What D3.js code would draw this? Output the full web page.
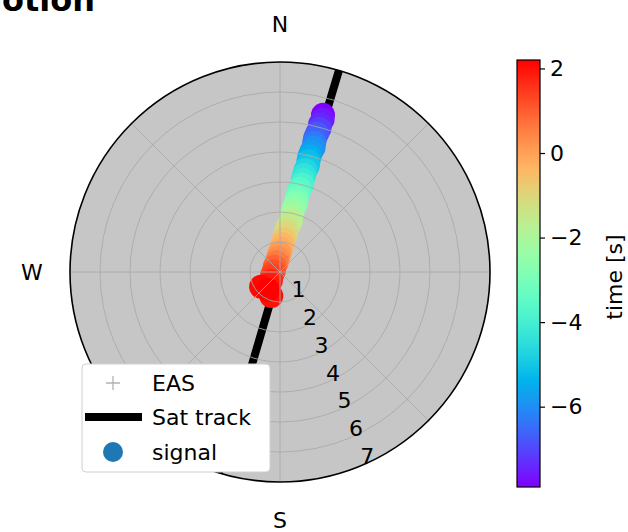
<!DOCTYPE html>
<head>
<meta charset="utf-8">
<script src="https://cdn.jsdelivr.net/npm/d3@7"></script>
<style>
  body { margin: 0; background: #fff; }
  text { font-family: "DejaVu Sans", sans-serif; fill: #000; }
  .grid { fill: none; stroke: #a9a9a9; stroke-width: 1; stroke-opacity: 0.85; }
</style>
</head>
<body>
<svg width="628" height="532"></svg>

<script>
// --- data ---
// compass labels (azimuth in degrees, clockwise from north)
var compassNames = ["N", "E", "S", "W"];
var compassAz = [0, 90, 180, 270];
// radial (zenith) rings and their labels
var ringTicks = [1, 2, 3, 4, 5, 6, 7];
var spokeAz = [0, 45, 90, 135, 180, 225, 270, 315];
var rlabelAz = 157.5;

// satellite track (azimuth deg, zenith)
var trackAz  = [16.3, 15.9, 196.8, 197.0];
var trackZen = [7.05, 3.5, 3.5, 7.05];

// signal points
var signalAz   = [15.3, 15.6, 15.2, 15.4, 15.0, 14.7, 14.8, 15.1, 14.6, 14.3,
                  14.4, 14.7, 14.1, 13.9, 13.8, 14.2, 13.4, 12.9, 12.8, 13.1,
                  12.3, 11.6, 11.4, 11.9, 10.1, 9.0, 8.2, 7.0, 5.1, 2.5,
                  358.8, 352, 341, 315, 274, 245, 226, 220, 200, 232, 214];
var signalZen  = [5.43, 5.28, 5.10, 4.95, 4.78, 4.62, 4.46, 4.30, 4.14, 3.98,
                  3.82, 3.66, 3.50, 3.33, 3.17, 3.01, 2.85, 2.69, 2.53, 2.37,
                  2.21, 2.05, 1.89, 1.73, 1.57, 1.41, 1.26, 1.10, 0.94, 0.78,
                  0.63, 0.48, 0.34, 0.25, 0.21, 0.30, 0.42, 0.57, 0.85, 0.80, 0.72];
var signalTime = [-7.9, -7.6, -7.4, -7.1, -6.8, -6.6, -6.3, -6.0, -5.8, -5.5,
                  -5.2, -5.0, -4.7, -4.4, -4.2, -3.9, -3.6, -3.4, -3.1, -2.8,
                  -2.6, -2.3, -2.0, -1.7, -1.5, -1.2, -1.0, -0.7, -0.4, -0.2,
                  0.1, 0.3, 0.6, 0.9, 1.2, 1.4, 1.7, 1.9, 2.0, 2.1, 2.2];

// colorbar ticks
var cbarTicks = [2, 0, -2, -4, -6];
var legendNames = ["EAS", "Sat track", "signal"];

// --- layout ---
var svg = d3.select("svg");
var cx = 280, cy = 272, R = 210;
var rScale = d3.scaleLinear().domain([0, 7]).range([0, R]);

function px(az, z) {
  var a = az * Math.PI / 180, r = rScale(z);
  return [cx + r * Math.sin(a), cy - r * Math.cos(a)];
}

// matplotlib "rainbow" colormap
function rainbow(t) {
  var c = function (v) { return Math.round(255 * Math.max(0, Math.min(1, v))); };
  return d3.rgb(c(Math.abs(2 * t - 0.5)), c(Math.sin(t * Math.PI)), c(Math.cos(t * Math.PI / 2))).toString();
}
var tExtent = d3.extent(signalTime);
var cnorm = d3.scaleLinear().domain(tExtent).range([0, 1]).clamp(true);

// title, mostly cut off by the top of the figure
svg.append("text")
    .attr("x", 95).attr("y", 11)
    .attr("text-anchor", "end")
    .style("font-size", "32px").style("font-weight", "bold")
    .text("Signal motion");

// clip to the polar disc
svg.append("clipPath").attr("id", "disc")
  .append("circle").attr("cx", cx).attr("cy", cy).attr("r", R);

// EAS coverage (dense gray + markers form an almost solid disc)
svg.append("circle")
    .attr("cx", cx).attr("cy", cy).attr("r", R)
    .attr("fill", "#c6c6c6");

var plot = svg.append("g").attr("clip-path", "url(#disc)");

// satellite track
plot.append("path")
    .datum(trackAz.map(function (a, i) { return px(a, trackZen[i]); }))
    .attr("d", d3.line())
    .attr("fill", "none")
    .attr("stroke", "#000")
    .attr("stroke-width", 8);

// signal points, later times drawn on top
var order = d3.range(signalTime.length).sort(function (a, b) { return signalTime[a] - signalTime[b]; });
plot.selectAll("circle.sig")
    .data(order)
  .enter().append("circle")
    .attr("class", "sig")
    .attr("cx", function (i) { return px(signalAz[i], signalZen[i])[0]; })
    .attr("cy", function (i) { return px(signalAz[i], signalZen[i])[1]; })
    .attr("r", 12)
    .attr("fill", function (i) { return rainbow(cnorm(signalTime[i])); });

// grid on top
plot.selectAll("circle.ring")
    .data(ringTicks.slice(0, -1))
  .enter().append("circle")
    .attr("class", "grid")
    .attr("cx", cx).attr("cy", cy)
    .attr("r", function (d) { return rScale(d); });

plot.selectAll("line.spoke")
    .data(spokeAz)
  .enter().append("line")
    .attr("class", "grid")
    .attr("x1", cx).attr("y1", cy)
    .attr("x2", function (d) { return px(d, 7)[0]; })
    .attr("y2", function (d) { return px(d, 7)[1]; });

// outer frame
svg.append("circle")
    .attr("cx", cx).attr("cy", cy).attr("r", R)
    .attr("fill", "none").attr("stroke", "#000").attr("stroke-width", 1.6);

// radial labels
svg.selectAll("text.rlab")
    .data(ringTicks)
  .enter().append("text")
    .attr("x", function (d) { return px(rlabelAz, d)[0] + 7; })
    .attr("y", function (d) { return px(rlabelAz, d)[1] - 10; })
    .attr("dy", "0.35em")
    .attr("text-anchor", "middle")
    .style("font-size", "22px")
    .text(function (d) { return d; });

// compass labels
svg.selectAll("text.compass")
    .data(compassNames)
  .enter().append("text")
    .attr("x", function (d, i) { return px(compassAz[i], 7 + 38 / 30)[0]; })
    .attr("y", function (d, i) { return px(compassAz[i], 7 + 38 / 30)[1]; })
    .attr("dy", "0.35em")
    .attr("text-anchor", "middle")
    .style("font-size", "22px")
    .text(function (d) { return d; });

// legend
var lg = svg.append("g");
lg.append("rect")
    .attr("x", 82).attr("y", 364).attr("width", 188).attr("height", 108)
    .attr("rx", 4)
    .attr("fill", "#fff")
    .attr("stroke", "#d0d0d0");
var rowY = [383, 417, 452];
lg.append("path")
    .attr("d", "M" + (113 - 7) + "," + rowY[0] + "h14M113," + (rowY[0] - 7) + "v14")
    .attr("stroke", "#b3b3b3").attr("stroke-width", 1.3);
lg.append("line")
    .attr("x1", 85).attr("x2", 142).attr("y1", rowY[1]).attr("y2", rowY[1])
    .attr("stroke", "#000").attr("stroke-width", 8);
lg.append("circle")
    .attr("cx", 113).attr("cy", rowY[2]).attr("r", 10)
    .attr("fill", "#1f77b4");
lg.selectAll("text")
    .data(legendNames)
  .enter().append("text")
    .attr("x", 152)
    .attr("y", function (d, i) { return rowY[i]; })
    .attr("dy", "0.35em")
    .style("font-size", "22px")
    .text(function (d) { return d; });

// colorbar
var cbX = 517, cbW = 23, cbTop = 60, cbBot = 487;
var cScale = d3.scaleLinear().domain(tExtent).range([cbBot, cbTop]);
var grad = svg.append("defs").append("linearGradient")
    .attr("id", "cgrad").attr("x1", 0).attr("y1", 1).attr("x2", 0).attr("y2", 0);
grad.selectAll("stop")
    .data(d3.range(0, 1.0001, 0.05))
  .enter().append("stop")
    .attr("offset", function (d) { return d; })
    .attr("stop-color", function (d) { return rainbow(d); });
svg.append("rect")
    .attr("x", cbX).attr("y", cbTop).attr("width", cbW).attr("height", cbBot - cbTop)
    .attr("fill", "url(#cgrad)")
    .attr("stroke", "#000").attr("stroke-width", 1.2);

var cAxis = d3.axisRight(cScale)
    .tickValues(cbarTicks)
    .tickSize(5)
    .tickPadding(5)
    .tickFormat(function (d) { return d < 0 ? "\u2212" + Math.abs(d) : d; });
var cg = svg.append("g")
    .attr("transform", "translate(" + (cbX + cbW) + ",0)")
    .call(cAxis);
cg.select(".domain").remove();
cg.selectAll("text").style("font-size", "22px").style("font-family", "DejaVu Sans, sans-serif");
cg.selectAll("line").attr("stroke", "#000").attr("stroke-width", 1.2);

svg.append("text")
    .attr("transform", "translate(614,277) rotate(-90)")
    .attr("text-anchor", "middle")
    .attr("dy", "0.35em")
    .style("font-size", "22px")
    .text("time [s]");
</script>
</body>
</html>
